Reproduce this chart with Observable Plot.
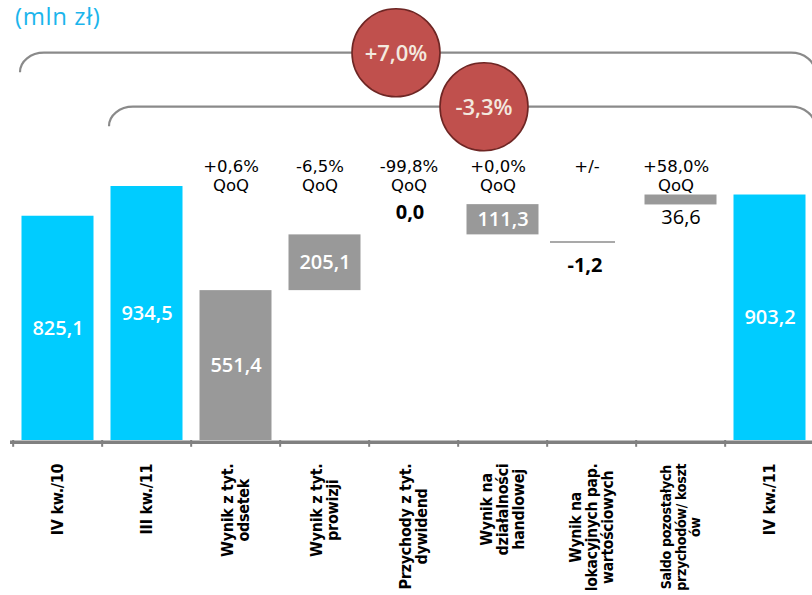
<!DOCTYPE html>
<html>
<head>
<meta charset="utf-8">
<script src="https://cdn.jsdelivr.net/npm/d3@7"></script>
<script src="https://cdn.jsdelivr.net/npm/@observablehq/plot@0.6"></script>
<style>
  html, body { margin: 0; padding: 0; background: #fff; }
  #chart { width: 812px; height: 595px; overflow: hidden; }
</style>
</head>
<body>
<div id="chart"></div>
<script>
// ---- data ----
const categories = [
  "IV kw./10",
  "III kw./11",
  "Wynik z tyt.\nodsetek",
  "Wynik z tyt.\nprowizji",
  "Przychody z tyt.\ndywidend",
  "Wynik na\ndziałalności\nhandlowej",
  "Wynik na\nlokacyjnych pap.\nwartościowych",
  "Saldo pozostałych\nprzychodów/ koszt\nów",
  "IV kw./11"
];
const values = [825.1, 934.5, 551.4, 205.1, 0.0, 111.3, -1.2, 36.6, 903.2];
const kinds = ["total", "total", "delta", "delta", "delta", "delta", "delta", "delta", "total"];
const qoqLabels = ["", "", "+0,6%\nQoQ", "-6,5%\nQoQ", "-99,8%\nQoQ", "+0,0%\nQoQ", "+/-", "+58,0%\nQoQ", ""];
const changeLabels = ["+7,0%", "-3,3%"];
const changeFrom = ["IV kw./10", "III kw./11"];
const unitLabel = "(mln zł)";
const lossMarkerLevel = 730; // level where the small negative item is marked in the picture

// ---- build table ----
const fmt = v => v.toFixed(1).replace(".", ",");
let run = 0;
const rows = categories.map((cat, i) => {
  const v = values[i], kind = kinds[i];
  let base, top;
  if (kind === "total") { base = 0; top = v; }
  else { base = run; top = run + v; run = top; }
  return {cat, value: v, kind, base, top, label: fmt(v), qoq: qoqLabels[i]};
});

const W = 812, H = 595;
const BLUE = "#00CCFF", GRAY = "#999999";
const step = (817 - 10) / categories.length;

const totals = rows.filter(d => d.kind === "total");
const posDeltas = rows.filter(d => d.kind === "delta" && d.value > 0);
const negDeltas = rows.filter(d => d.kind === "delta" && d.value < 0);
const zeroDeltas = rows.filter(d => d.kind === "delta" && d.value === 0);
const inside = rows.filter(d => Math.abs(d.top - d.base) >= 60);
const smallPos = rows.filter(d => d.kind === "delta" && d.value > 0 && d.value < 60);

const plot = Plot.plot({
  width: W, height: H,
  marginLeft: 10, marginRight: 0, marginTop: 0, marginBottom: 0,
  x: {domain: categories, range: [10, 817], padding: 0, axis: null},
  y: {domain: [0, 1000], range: [440, 168.2], axis: null},
  style: {background: "white", fontFamily: "'Open Sans', sans-serif"},
  marks: [
    Plot.barY(totals, {x: "cat", y1: "base", y2: "top", fill: BLUE, insetLeft: 8.5, insetRight: 8.5}),
    Plot.barY(posDeltas, {x: "cat", y1: "base", y2: "top", fill: GRAY, insetLeft: 8.5, insetRight: 8.5}),
    Plot.tickY(negDeltas, {x: "cat", y: () => lossMarkerLevel, stroke: "#a9a9a9", strokeWidth: 2, insetLeft: 3, insetRight: 21}),
    // axis line and band ticks
    Plot.ruleY([0], {stroke: "#808080", strokeWidth: 3.5, dy: 1.75}),
    Plot.ruleX(categories, {x: d => d, y1: 0, y2: -25, stroke: "#808080", strokeWidth: 2, dx: -step / 2}),
    // value labels
    Plot.text(inside, {x: "cat", y: d => (d.base + d.top) / 2, text: "label", fill: "white",
      fontSize: 20, fontWeight: 600, fontFamily: "'Open Sans', sans-serif"}),
    Plot.text(zeroDeltas, {x: "cat", y: "top", dy: -22, dx: -4, text: "label", fill: "#000",
      fontSize: 20, fontWeight: 700, fontFamily: "'Open Sans', sans-serif"}),
    Plot.text(smallPos, {x: "cat", y: "base", dy: 13, text: "label", fill: "#000",
      fontSize: 20, fontWeight: 400, fontFamily: "'Open Sans', sans-serif"}),
    Plot.text(negDeltas, {x: "cat", y: () => lossMarkerLevel, dy: 24, dx: -7, text: "label", fill: "#000",
      fontSize: 20, fontWeight: 700, fontFamily: "'Open Sans', sans-serif"}),
    // QoQ labels
    Plot.text(rows.filter(d => d.qoq), {x: "cat", text: "qoq", frameAnchor: "top", dy: 157, dx: -5,
      lineAnchor: "top", lineHeight: 1.2, fill: "#000", fontSize: 16.5, fontFamily: "'DejaVu Sans', sans-serif"}),
    // category labels (last text mark)
    Plot.text(rows, {x: "cat", text: "cat", frameAnchor: "bottom", rotate: -90,
      textAnchor: "middle", lineAnchor: "middle", lineHeight: 1.0, fill: "#000",
      fontSize: 16, fontWeight: "bold", fontFamily: "'DejaVu Sans Condensed', 'DejaVu Sans', sans-serif"})
  ]
});

document.getElementById("chart").appendChild(plot);

const svg = d3.select(plot);
// condensed styling for category labels, then push each so its longest line starts just below the axis
const textGroups = svg.selectAll('g[aria-label="text"]').nodes();
const catG = d3.select(textGroups[textGroups.length - 1])
  .style("font-stretch", "condensed")
  .style("letter-spacing", "-0.3px");
const labelTop = 463, labelRoom = 128;
catG.selectAll("text").each(function() {
  const t = this.getAttribute("transform") || "";
  const m = /translate\(\s*([-\d.e]+)[,\s]+([-\d.e]+)\s*\)/.exec(t);
  if (!m) return;
  let bb = this.getBBox();
  if (bb.width > labelRoom) {
    this.setAttribute("font-size", (16 * labelRoom / bb.width).toFixed(2));
    bb = this.getBBox();
  }
  const newY = labelTop + bb.x + bb.width;
  this.setAttribute("transform", `translate(${m[1]},${newY}) rotate(-90)`);
});

// ---- annotation layer: unit label, brackets and change bubbles ----
const xs = plot.scale("x");
const ann = svg.append("g").attr("text-anchor", "start");
ann.append("text")
  .attr("x", 15).attr("y", 25)
  .attr("text-anchor", "start")
  .attr("fill", "#1BB5EC")
  .attr("font-family", "'Open Sans', sans-serif")
  .attr("font-size", 24)
  .attr("letter-spacing", "0.6px")
  .text(unitLabel);

const bracketTops = [52.7, 106.7];
const bracketDepth = 19.5;
const circleX = [396, 484];
changeFrom.forEach((cat, i) => {
  const left = xs.apply(cat) + 7;
  const right = 815;
  const top = bracketTops[i], bottom = top + bracketDepth, rx = 24, ry = bracketDepth;
  const path = `M${left},${bottom} A${rx},${ry} 0 0 1 ${left + rx},${top} L${right - rx},${top} A${rx},${ry} 0 0 1 ${right},${bottom}`;
  ann.append("path").attr("d", path).attr("fill", "none")
    .attr("stroke", "#8a8a8a").attr("stroke-width", 2.2);
});
changeLabels.forEach((lab, i) => {
  const cx = circleX[i], cy = bracketTops[i];
  ann.append("circle").attr("cx", cx).attr("cy", cy).attr("r", 44)
    .attr("fill", "#C0504D").attr("stroke", "#6E2624").attr("stroke-width", 1.6);
  ann.append("text").attr("x", cx).attr("y", cy + 2)
    .attr("text-anchor", "middle").attr("dominant-baseline", "middle")
    .attr("fill", "#F3E9DF")
    .attr("font-family", "'Open Sans', sans-serif")
    .attr("font-weight", 600).attr("font-size", 22)
    .text(lab);
});
</script>
</body>
</html>
